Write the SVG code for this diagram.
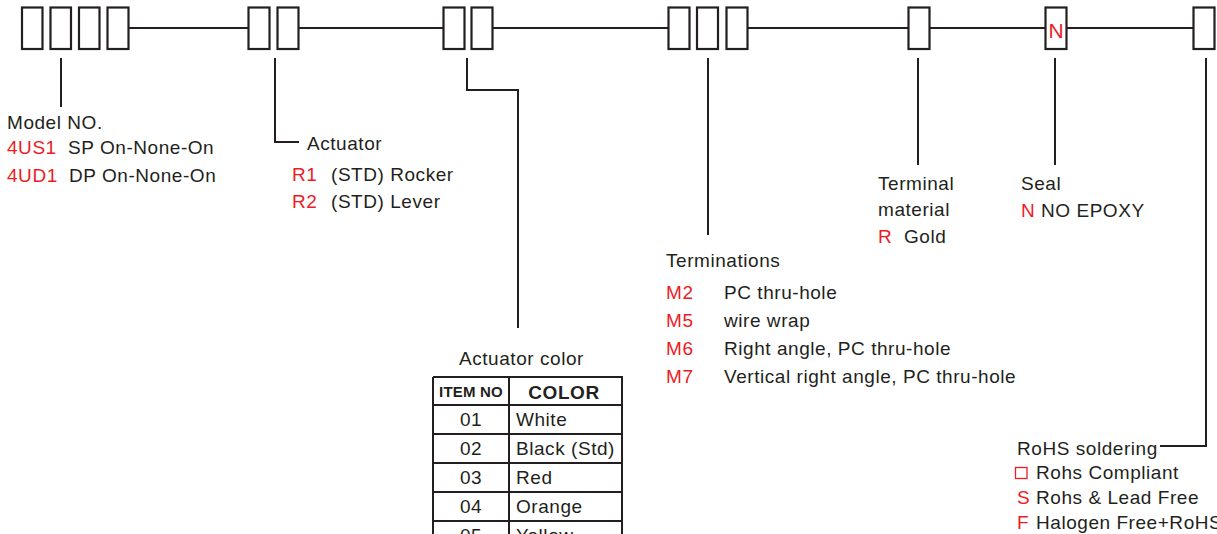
<svg xmlns="http://www.w3.org/2000/svg" width="1217" height="534" viewBox="0 0 1217 534">
<style>
.box{fill:#fff;stroke:#231f20;stroke-width:2.2}
.ln{fill:none;stroke:#231f20;stroke-width:2}
.t{font-family:"Liberation Sans",Arial,sans-serif;font-size:19px;letter-spacing:0.55px;fill:#231f20}
.r{fill:#ed1c24}
.b{font-weight:bold}
.tb{fill:none;stroke:#231f20;stroke-width:2}
</style>
<rect width="1217" height="534" fill="#fff"/>
<g id="connectors">
<path class="ln" d="M128.5 28H248.5M298.5 28H443.5M492.5 28H668.5M747.5 28H908.5M929.5 28H1045.5M1066.5 28H1193.5"/>
<path class="ln" d="M61 58V107"/>
<path class="ln" d="M275 58V142H299"/>
<path class="ln" d="M467 58V90H518V328"/>
<path class="ln" d="M708 58V235"/>
<path class="ln" d="M918 58V165"/>
<path class="ln" d="M1055 58V165"/>
<path class="ln" d="M1206 58V446H1160"/>
</g>
<g id="model">
<rect class="box" x="22" y="7.5" width="20.5" height="41.5"/>
<rect class="box" x="50.5" y="7.5" width="20.5" height="41.5"/>
<rect class="box" x="79" y="7.5" width="20.5" height="41.5"/>
<rect class="box" x="107.5" y="7.5" width="21" height="41.5"/>
<text class="t" x="7" y="129">Model NO.</text>
<text class="t" y="154"><tspan class="r" x="7">4US1</tspan><tspan x="68">SP On-None-On</tspan></text>
<text class="t" y="182"><tspan class="r" x="7">4UD1</tspan><tspan x="69">DP On-None-On</tspan></text>
</g>
<g id="actuator">
<rect class="box" x="248.5" y="7.5" width="21" height="41.5"/>
<rect class="box" x="277.5" y="7.5" width="21" height="41.5"/>
<text class="t" x="307" y="150">Actuator</text>
<text class="t" y="181"><tspan class="r" x="292">R1</tspan><tspan x="331">(STD) Rocker</tspan></text>
<text class="t" y="208"><tspan class="r" x="292">R2</tspan><tspan x="331">(STD) Lever</tspan></text>
</g>
<g id="actuator-color">
<rect class="box" x="443.5" y="7.5" width="21" height="41.5"/>
<rect class="box" x="471.5" y="7.5" width="21" height="41.5"/>
<text class="t" x="459" y="365">Actuator color</text>
<path class="tb" d="M433 377H622V540M433 377V540M509 377V540M433 405H622M433 434H622M433 463H622M433 492H622M433 521H622"/>
<text class="t b" x="471" y="397" text-anchor="middle" style="font-size:15px;letter-spacing:0.2px">ITEM NO</text>
<text class="t b" x="564" y="399" text-anchor="middle">COLOR</text>
<text class="t" x="471" y="426" text-anchor="middle">01</text>
<text class="t" x="516" y="426">White</text>
<text class="t" x="471" y="455" text-anchor="middle">02</text>
<text class="t" x="516" y="455">Black (Std)</text>
<text class="t" x="471" y="484" text-anchor="middle">03</text>
<text class="t" x="516" y="484">Red</text>
<text class="t" x="471" y="513" text-anchor="middle">04</text>
<text class="t" x="516" y="513">Orange</text>
<text class="t" x="471" y="542" text-anchor="middle">05</text>
<text class="t" x="516" y="542">Yellow</text>
</g>
<g id="terminations">
<rect class="box" x="668.5" y="7.5" width="21" height="41.5"/>
<rect class="box" x="697" y="7.5" width="21" height="41.5"/>
<rect class="box" x="726.5" y="7.5" width="21" height="41.5"/>
<text class="t" x="666" y="267">Terminations</text>
<text class="t" y="299"><tspan class="r" x="666">M2</tspan><tspan x="724">PC thru-hole</tspan></text>
<text class="t" y="327"><tspan class="r" x="666">M5</tspan><tspan x="724">wire wrap</tspan></text>
<text class="t" y="355"><tspan class="r" x="666">M6</tspan><tspan x="724">Right angle, PC thru-hole</tspan></text>
<text class="t" y="383"><tspan class="r" x="666">M7</tspan><tspan x="724">Vertical right angle, PC thru-hole</tspan></text>
</g>
<g id="terminal-material">
<rect class="box" x="908.5" y="7.5" width="21" height="41.5"/>
<text class="t" x="878" y="190">Terminal</text>
<text class="t" x="878" y="216">material</text>
<text class="t" y="243"><tspan class="r" x="878">R</tspan><tspan x="904">Gold</tspan></text>
</g>
<g id="seal">
<rect class="box" x="1045.5" y="7.5" width="21" height="41.5"/>
<text class="t r" x="1056" y="37.5" text-anchor="middle" style="font-size:21px;letter-spacing:0">N</text>
<text class="t" x="1021" y="190">Seal</text>
<text class="t" y="217"><tspan class="r" x="1021">N</tspan><tspan x="1041">NO EPOXY</tspan></text>
</g>
<g id="rohs">
<rect class="box" x="1193.5" y="7.5" width="21" height="41.5"/>
<text class="t" x="1017" y="455">RoHS soldering</text>
<rect x="1015.5" y="467.5" width="11.5" height="11" fill="none" stroke="#ed1c24" stroke-width="1.3"/>
<text class="t" x="1036" y="479">Rohs Compliant</text>
<text class="t" y="504"><tspan class="r" x="1017">S</tspan><tspan x="1036">Rohs &amp; Lead Free</tspan></text>
<text class="t" y="529"><tspan class="r" x="1017">F</tspan><tspan x="1036">Halogen Free+RoHS</tspan></text>
</g>
</svg>
